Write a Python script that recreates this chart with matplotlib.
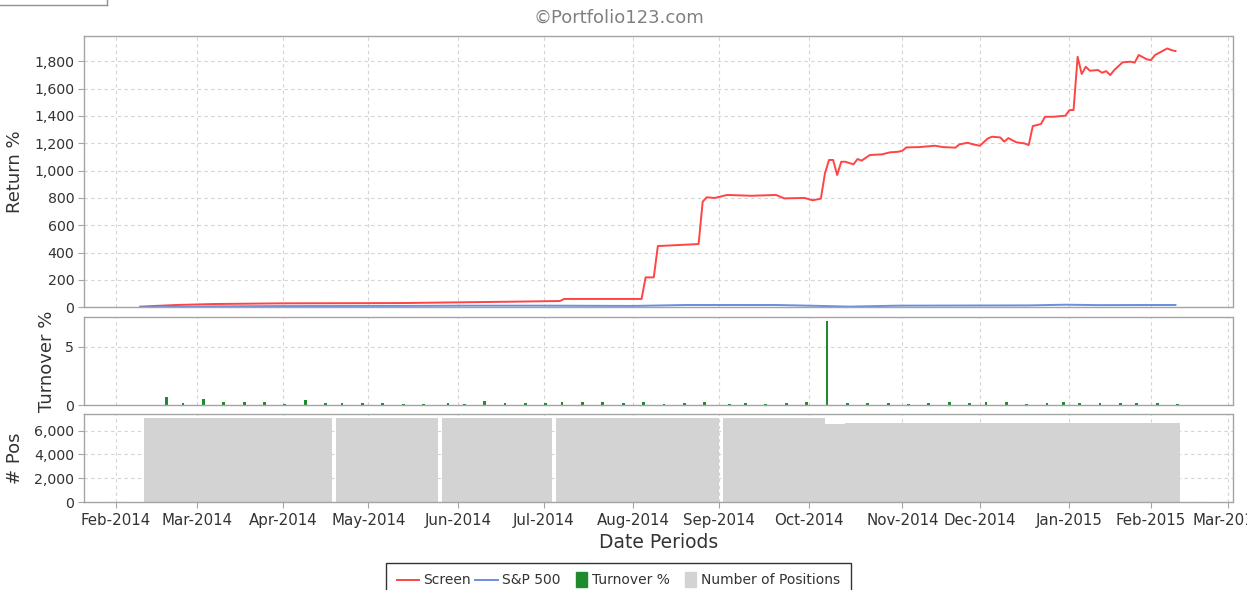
import numpy as np
import matplotlib
matplotlib.use('Agg')
import matplotlib.pyplot as plt
import matplotlib.patches as mpatches
from matplotlib.lines import Line2D
from matplotlib.legend_handler import HandlerPatch
from matplotlib.ticker import FuncFormatter

# ---- data ----
# x axis is a trading-day timeline: weekends and these days are left out
origin = '2014-02-03'
closed_days = ['2014-02-17', '2014-04-18', '2014-07-04', '2014-11-27',
               '2014-12-25', '2015-01-01', '2015-01-19', '2015-02-16']

month_starts = ['2014-02-01', '2014-03-01', '2014-04-01', '2014-05-01', '2014-06-01',
                '2014-07-01', '2014-08-01', '2014-09-01', '2014-10-01', '2014-11-01',
                '2014-12-01', '2015-01-01', '2015-02-01', '2015-03-01']
month_labels = ['Feb-2014', 'Mar-2014', 'Apr-2014', 'May-2014', 'Jun-2014', 'Jul-2014',
                'Aug-2014', 'Sep-2014', 'Oct-2014', 'Nov-2014', 'Dec-2014', 'Jan-2015',
                'Feb-2015', 'Mar-2015']

screen_dates = ['2014-02-10', '2014-02-24', '2014-03-07', '2014-04-01', '2014-04-23',
                '2014-05-13', '2014-05-23', '2014-06-19', '2014-07-08', '2014-07-09',
                '2014-08-05', '2014-08-06', '2014-08-08', '2014-08-11', '2014-08-25',
                '2014-08-26', '2014-08-27', '2014-08-29', '2014-09-03', '2014-09-11',
                '2014-09-19', '2014-09-23', '2014-09-30', '2014-10-02', '2014-10-06',
                '2014-10-07', '2014-10-08', '2014-10-09', '2014-10-10', '2014-10-13',
                '2014-10-14', '2014-10-16', '2014-10-17', '2014-10-20', '2014-10-22',
                '2014-10-27', '2014-10-29', '2014-10-31', '2014-11-03', '2014-11-04',
                '2014-11-07', '2014-11-13', '2014-11-17', '2014-11-20', '2014-11-21',
                '2014-11-25', '2014-11-26', '2014-12-01', '2014-12-03', '2014-12-04',
                '2014-12-08', '2014-12-09', '2014-12-10', '2014-12-12', '2014-12-16',
                '2014-12-17', '2014-12-18', '2014-12-22', '2014-12-23', '2014-12-26',
                '2014-12-31', '2015-01-02', '2015-01-05', '2015-01-06', '2015-01-07',
                '2015-01-08', '2015-01-09', '2015-01-13', '2015-01-14', '2015-01-15',
                '2015-01-16', '2015-01-20', '2015-01-22', '2015-01-26', '2015-01-27',
                '2015-01-28', '2015-01-30', '2015-02-02', '2015-02-03', '2015-02-06',
                '2015-02-09', '2015-02-10']
screen_ret = [5, 17, 24, 29, 30, 31, 34, 41, 46, 61,
              61, 219, 219, 448, 463, 773, 805, 800, 822, 816,
              822, 797, 800, 783, 795, 980, 1078, 1078, 968, 1065,
              1065, 1046, 1085, 1073, 1114, 1119, 1134, 1138, 1146, 1170,
              1172, 1182, 1172, 1168, 1192, 1204, 1195, 1182, 1236, 1248,
              1243, 1212, 1238, 1207, 1199, 1187, 1326, 1341, 1394, 1394,
              1402, 1443, 1443, 1833, 1707, 1760, 1731, 1736, 1716, 1728,
              1699, 1736, 1792, 1797, 1790, 1846, 1814, 1809, 1846, 1894,
              1882, 1875]

sp500_dates = ['2014-02-10', '2014-02-24', '2014-03-07', '2014-04-01', '2014-05-13',
               '2014-06-03', '2014-07-01', '2014-08-01', '2014-08-20', '2014-09-19',
               '2014-10-06', '2014-10-15', '2014-10-31', '2014-11-21', '2014-12-17',
               '2014-12-31', '2015-01-13', '2015-02-02', '2015-02-10']
sp500_ret = [0, 3, 7, 9, 10, 12, 12, 10, 17, 17, 10, 5, 12, 13, 14, 19, 16, 17, 17]

turnover_dates = ['2014-02-19', '2014-02-25', '2014-03-04', '2014-03-11', '2014-03-18',
                  '2014-03-25', '2014-04-01', '2014-04-08', '2014-04-15', '2014-04-22',
                  '2014-04-29', '2014-05-06', '2014-05-13', '2014-05-20', '2014-05-28',
                  '2014-06-03', '2014-06-10', '2014-06-17', '2014-06-24', '2014-07-01',
                  '2014-07-08', '2014-07-15', '2014-07-22', '2014-07-29', '2014-08-05',
                  '2014-08-12', '2014-08-19', '2014-08-26', '2014-09-03', '2014-09-09',
                  '2014-09-16', '2014-09-23', '2014-09-30', '2014-10-07', '2014-10-14',
                  '2014-10-21', '2014-10-28', '2014-11-04', '2014-11-11', '2014-11-18',
                  '2014-11-25', '2014-12-02', '2014-12-09', '2014-12-16', '2014-12-23',
                  '2014-12-30', '2015-01-06', '2015-01-13', '2015-01-21', '2015-01-27',
                  '2015-02-03', '2015-02-10']
turnover_pct = [0.74, 0.20, 0.51, 0.31, 0.28, 0.26, 0.11, 0.43, 0.17, 0.23,
                0.20, 0.20, 0.14, 0.14, 0.17, 0.11, 0.37, 0.20, 0.17, 0.23,
                0.28, 0.28, 0.28, 0.20, 0.26, 0.11, 0.20, 0.26, 0.11, 0.20,
                0.11, 0.23, 0.26, 7.21, 0.20, 0.23, 0.20, 0.11, 0.17, 0.26,
                0.17, 0.31, 0.28, 0.11, 0.17, 0.31, 0.20, 0.23, 0.23, 0.17,
                0.20, 0.14]

# runs of days with the same number of positions (first day, last day)
pos_start = ['2014-02-11', '2014-04-21', '2014-05-27', '2014-07-07',
             '2014-09-02', '2014-10-07', '2014-10-14']
pos_end = ['2014-04-16', '2014-05-23', '2014-07-02', '2014-08-29',
           '2014-10-06', '2014-10-13', '2015-02-10']
pos_count = [7020, 7020, 7020, 7020, 7020, 6560, 6620]


def tpos(dates):
    d = np.array(dates, dtype='datetime64[D]')
    return np.busday_count(origin, d, holidays=closed_days)


W, H = 1247, 590
fig = plt.figure(figsize=(W / 100, H / 100), dpi=100)

left = 84 / W
width = (1232.5 - 84) / W
ax1 = fig.add_axes([left, 1 - 307.3 / H, width, 271.3 / H])
ax2 = fig.add_axes([left, 1 - 405.3 / H, width, 88.6 / H])
ax3 = fig.add_axes([left, 1 - 502.3 / H, width, 88.0 / H])

tick_x = tpos(month_starts)
txt = '#333333'
frame = '#A4A4A4'

for ax in (ax1, ax2, ax3):
    ax.set_xlim(-8.8, 273.0)
    ax.set_xticks(tick_x)
    ax.grid(True, color='#D4D4D4', linestyle=(0, (3, 3)), linewidth=0.8)
    ax.set_axisbelow(True)
    for s in ax.spines.values():
        s.set_color(frame)
        s.set_linewidth(1.0)
    ax.tick_params(axis='y', length=4, color=frame, labelsize=10.2, labelcolor=txt, pad=3)
    ax.yaxis.set_major_formatter(FuncFormatter(lambda v, p: f'{v:,.0f}'))

for ax in (ax1, ax2):
    ax.tick_params(axis='x', length=0, labelbottom=False)

# returns
ax1.plot(tpos(screen_dates), screen_ret, color='#FF4444', linewidth=1.4)
ax1.plot(tpos(sp500_dates), sp500_ret, color='#6A8FE0', linewidth=1.4)
ax1.set_ylim(0, 1985)
ax1.set_yticks(np.arange(0, 1801, 200))
ax1.set_ylabel('Return %', fontsize=13, color=txt, labelpad=7)

# turnover
ax2.bar(tpos(turnover_dates) + 0.5, turnover_pct, width=0.7, color='#1F8A2E')
ax2.set_ylim(0, 7.55)
ax2.set_yticks([0, 5])
ax2.set_ylabel('Turnover %', fontsize=13, color=txt, labelpad=7)

# number of positions
x0 = tpos(pos_start)
x1 = tpos(pos_end) + 1
ax3.bar(x0, pos_count, width=x1 - x0, align='edge', color='#D3D3D3', linewidth=0)
ax3.set_ylim(0, 7364)
ax3.set_yticks([0, 2000, 4000, 6000])
ax3.set_ylabel('# Pos', fontsize=13, color=txt, labelpad=7)
ax3.set_xticklabels(month_labels)
ax3.tick_params(axis='x', length=4, color=frame, labelsize=10.8, labelcolor=txt, pad=3.5)
ax3.set_xlabel('Date Periods', fontsize=13.5, color=txt, labelpad=4)

fig.text(618.5 / W, 1 - 18 / H, '\u00a9Portfolio123.com', ha='center', va='center',
         color='#808080', fontsize=13)

# fragment of a box at the top left corner
fig.add_artist(Line2D([0, 107 / W], [1 - 4.5 / H, 1 - 4.5 / H], color='#909090', linewidth=1))
fig.add_artist(Line2D([107 / W, 107 / W], [1, 1 - 4.5 / H], color='#909090', linewidth=1))


def slim_patch(legend, orig_handle, xdescent, ydescent, width, height, fontsize):
    return mpatches.Rectangle((-xdescent + width * 0.5, -ydescent - height * 0.3),
                              width * 0.5, height * 1.6)


handles = [Line2D([], [], color='#FF4444', linewidth=1.4),
           Line2D([], [], color='#6A8FE0', linewidth=1.4),
           mpatches.Patch(color='#1F8A2E'),
           mpatches.Patch(color='#D3D3D3')]
labels = ['Screen', 'S&P 500', 'Turnover %', 'Number of Positions']
leg = fig.legend(handles, labels, loc='upper center', bbox_to_anchor=(618.5 / W, 1 - 563 / H),
                 ncol=4, fontsize=10, frameon=True, fancybox=False, edgecolor='black',
                 borderaxespad=0, handlelength=1.6, handletextpad=0.35, columnspacing=0.3,
                 borderpad=0.75, handler_map={mpatches.Patch: HandlerPatch(patch_func=slim_patch)})
leg.get_frame().set_linewidth(1.0)
for t in leg.get_texts():
    t.set_color(txt)

fig.savefig('out.png', dpi=100)
